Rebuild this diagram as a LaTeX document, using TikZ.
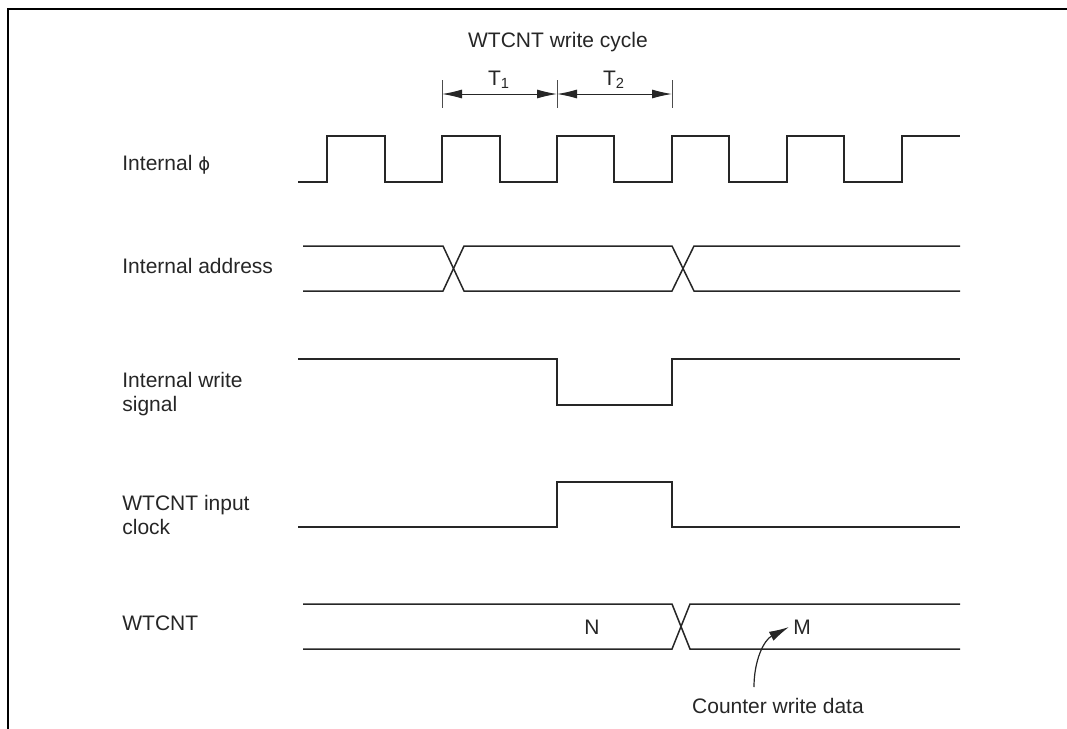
\documentclass[tikz,border=0pt]{standalone}
\usepackage{fontspec}
\setmainfont{Liberation Sans}
\newfontfamily\symfont{DejaVu Sans}
\usetikzlibrary{arrows.meta}
\begin{document}
\begin{tikzpicture}[x=0.5pt,y=-0.5pt,
 sig/.style={line width=0.75pt, line join=miter, draw=black!85},
 lbl/.style={anchor=base west, inner sep=0pt, font=\fontsize{10.5}{12}\selectfont, text=black!85},
 txt/.style={anchor=base, inner sep=0pt, font=\fontsize{10.5}{12}\selectfont, text=black!85},
 dimarrow/.style={line width=0.5pt, draw=black!85, {Latex[length=10pt,width=4.5pt]}-{Latex[length=10pt,width=4.5pt]}},
 ticks/.style={line width=0.5pt, draw=black!70}]
\useasboundingbox (0,0) rectangle (1067,729);
\draw[line width=1.2pt] (8,729) -- (8,9) -- (1067,9);
% labels
\node[lbl] (lphi) at (122,170) {Internal {\symfont\fontsize{9}{12}\selectfont ϕ}};
\node[lbl] (laddr) at (122,273.5) {Internal address};
\node[lbl] (lw1) at (122,387) {Internal write};
\node[lbl] (lw2) at (122,411.5) {signal};
\node[lbl] (lc1) at (122,510) {WTCNT input};
\node[lbl] (lc2) at (122,534.5) {clock};
\node[lbl] (lcnt) at (122,630.5) {WTCNT};
% write cycle dimension
\node[txt] (title) at (558,47) {WTCNT write cycle};
\coordinate (t0) at (442,94);
\coordinate (t1) at (557,94);
\coordinate (t2) at (672,94);
\draw[ticks] (442,80) -- (442,108);
\draw[ticks] (557,80) -- (557,108);
\draw[ticks] (672,80) -- (672,108);
\draw[dimarrow] (t0) -- (t1);
\draw[dimarrow] (t1) -- (t2);
\node[txt] (T1) at (499,85) {T\textsubscript{1}};
\node[txt] (T2) at (614,85) {T\textsubscript{2}};
% internal phi
\draw[sig] (298,182) -| (327,136) -| (385,182) -| (442,136) -| (500,182) -| (557,136)
  -| (614,182) -| (672,136) -| (729,182) -| (787,136) -| (844,182) -| (902,136) -- (960,136);
% internal address
\draw[sig] (303,246) -- (443,246) -- (464,291) -- (672,291) -- (694,246) -- (960,246);
\draw[sig] (303,291) -- (443,291) -- (464,246) -- (672,246) -- (694,291) -- (960,291);
% internal write signal
\draw[sig] (298,359) -| (557,405) -| (672,359) -- (960,359);
% WTCNT input clock
\draw[sig] (298,527) -| (557,482) -| (672,527) -- (960,527);
% WTCNT
\draw[sig] (303,604) -- (672,604) -- (690,649) -- (960,649);
\draw[sig] (303,649) -- (672,649) -- (690,604) -- (960,604);
\node[txt] (N) at (592,634) {N};
\node[txt] (M) at (802,634) {M};
\node[txt] (cwd) at (778,713) {Counter write data};
\coordinate (cs) at (754,687);
\coordinate (ce) at (789,627);
\draw[line width=0.6pt, draw=black!85, -{Latex[length=10pt,width=5pt]}] (cs) .. controls (754,660) and (764,640) .. (ce);
\end{tikzpicture}
\end{document}
